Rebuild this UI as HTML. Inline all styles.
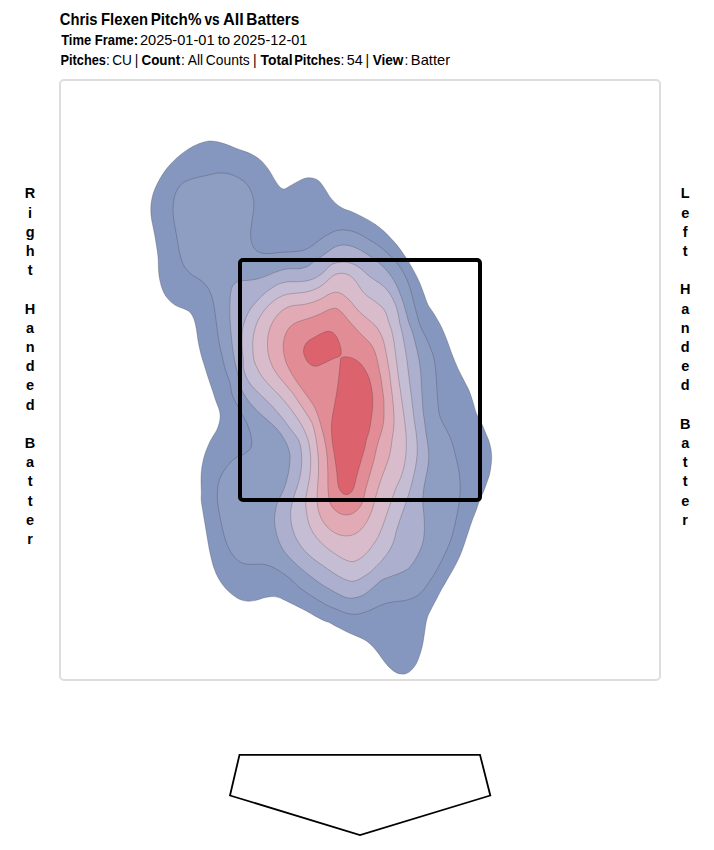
<!DOCTYPE html>
<html><head><meta charset="utf-8">
<style>
html,body{margin:0;padding:0;background:#fff;}
body{width:714px;height:850px;position:relative;overflow:hidden;font-family:"Liberation Sans",sans-serif;color:#000;}
#frame{position:absolute;left:59px;top:79px;width:598px;height:598px;border:2px solid #ddd;border-radius:5px;}
svg{position:absolute;left:0;top:0;}
</style></head>
<body>
<div id="frame"></div>
<svg width="714" height="850" viewBox="0 0 714 850">
<g id="txt" font-family="'Liberation Sans', sans-serif" fill="#000">
<text transform="translate(59.79,24.7) scale(0.942,1)" font-size="15.7" font-weight="bold">Chris</text>
<text transform="translate(101.06,24.7) scale(0.945,1)" font-size="15.7" font-weight="bold">Flexen</text>
<text transform="translate(150.63,24.7) scale(0.971,1)" font-size="15.7" font-weight="bold">Pitch%</text>
<text transform="translate(204.50,24.7) scale(0.872,1)" font-size="15.7" font-weight="bold">vs</text>
<text transform="translate(222.88,24.7) scale(1.038,1)" font-size="15.7" font-weight="bold">All</text>
<text transform="translate(246.32,24.7) scale(0.981,1)" font-size="15.7" font-weight="bold">Batters</text>
<text transform="translate(61.16,44.7) scale(0.942,1)" font-size="13.8" font-weight="bold">Time Frame:</text>
<text transform="translate(139.91,44.7) scale(1.058,1)" font-size="13.8">2025-01-01</text>
<text transform="translate(217.63,44.7) scale(1.098,1)" font-size="13.8">to</text>
<text transform="translate(233.11,44.7) scale(1.053,1)" font-size="13.8">2025-12-01</text>
<text transform="translate(60.47,64.7) scale(0.928,1)" font-size="13.8" font-weight="bold">Pitches</text>
<text transform="translate(105.97,64.7) scale(1.000,1)" font-size="13.8">:</text>
<text transform="translate(112.16,64.7) scale(0.989,1)" font-size="13.8">CU</text>
<text transform="translate(134.72,64.7) scale(1.000,1)" font-size="13.8">|</text>
<text transform="translate(141.51,64.7) scale(0.971,1)" font-size="13.8" font-weight="bold">Count</text>
<text transform="translate(180.93,64.7) scale(1.000,1)" font-size="13.8">:</text>
<text transform="translate(187.80,64.7) scale(1.000,1)" font-size="13.8">All</text>
<text transform="translate(205.85,64.7) scale(1.005,1)" font-size="13.8">Counts</text>
<text transform="translate(253.03,64.7) scale(1.000,1)" font-size="13.8">|</text>
<text transform="translate(260.55,64.7) scale(1.005,1)" font-size="13.8" font-weight="bold">Total</text>
<text transform="translate(294.15,64.7) scale(0.947,1)" font-size="13.8" font-weight="bold">Pitches</text>
<text transform="translate(340.43,64.7) scale(1.000,1)" font-size="13.8">:</text>
<text transform="translate(346.68,64.7) scale(1.041,1)" font-size="13.8">54</text>
<text transform="translate(365.62,64.7) scale(1.000,1)" font-size="13.8">|</text>
<text transform="translate(372.70,64.7) scale(0.986,1)" font-size="13.8" font-weight="bold">View</text>
<text transform="translate(404.43,64.7) scale(1.000,1)" font-size="13.8">:</text>
<text transform="translate(410.84,64.7) scale(1.065,1)" font-size="13.8">Batter</text>
<text x="30.1" y="198.4" text-anchor="middle" font-size="14.5" font-weight="bold">R</text>
<text x="30.1" y="217.6" text-anchor="middle" font-size="14.5" font-weight="bold">i</text>
<text x="30.1" y="236.8" text-anchor="middle" font-size="14.5" font-weight="bold">g</text>
<text x="30.1" y="256.0" text-anchor="middle" font-size="14.5" font-weight="bold">h</text>
<text x="30.1" y="275.2" text-anchor="middle" font-size="14.5" font-weight="bold">t</text>
<text x="30.1" y="313.6" text-anchor="middle" font-size="14.5" font-weight="bold">H</text>
<text x="30.1" y="332.8" text-anchor="middle" font-size="14.5" font-weight="bold">a</text>
<text x="30.1" y="352.0" text-anchor="middle" font-size="14.5" font-weight="bold">n</text>
<text x="30.1" y="371.2" text-anchor="middle" font-size="14.5" font-weight="bold">d</text>
<text x="30.1" y="390.4" text-anchor="middle" font-size="14.5" font-weight="bold">e</text>
<text x="30.1" y="409.6" text-anchor="middle" font-size="14.5" font-weight="bold">d</text>
<text x="30.1" y="448.0" text-anchor="middle" font-size="14.5" font-weight="bold">B</text>
<text x="30.1" y="467.2" text-anchor="middle" font-size="14.5" font-weight="bold">a</text>
<text x="30.1" y="486.4" text-anchor="middle" font-size="14.5" font-weight="bold">t</text>
<text x="30.1" y="505.6" text-anchor="middle" font-size="14.5" font-weight="bold">t</text>
<text x="30.1" y="524.8" text-anchor="middle" font-size="14.5" font-weight="bold">e</text>
<text x="30.1" y="544.0" text-anchor="middle" font-size="14.5" font-weight="bold">r</text>
<text x="685.2" y="198.4" text-anchor="middle" font-size="14.5" font-weight="bold">L</text>
<text x="685.2" y="217.6" text-anchor="middle" font-size="14.5" font-weight="bold">e</text>
<text x="685.2" y="236.8" text-anchor="middle" font-size="14.5" font-weight="bold">f</text>
<text x="685.2" y="256.0" text-anchor="middle" font-size="14.5" font-weight="bold">t</text>
<text x="685.2" y="294.4" text-anchor="middle" font-size="14.5" font-weight="bold">H</text>
<text x="685.2" y="313.6" text-anchor="middle" font-size="14.5" font-weight="bold">a</text>
<text x="685.2" y="332.8" text-anchor="middle" font-size="14.5" font-weight="bold">n</text>
<text x="685.2" y="352.0" text-anchor="middle" font-size="14.5" font-weight="bold">d</text>
<text x="685.2" y="371.2" text-anchor="middle" font-size="14.5" font-weight="bold">e</text>
<text x="685.2" y="390.4" text-anchor="middle" font-size="14.5" font-weight="bold">d</text>
<text x="685.2" y="428.8" text-anchor="middle" font-size="14.5" font-weight="bold">B</text>
<text x="685.2" y="448.0" text-anchor="middle" font-size="14.5" font-weight="bold">a</text>
<text x="685.2" y="467.2" text-anchor="middle" font-size="14.5" font-weight="bold">t</text>
<text x="685.2" y="486.4" text-anchor="middle" font-size="14.5" font-weight="bold">t</text>
<text x="685.2" y="505.6" text-anchor="middle" font-size="14.5" font-weight="bold">e</text>
<text x="685.2" y="524.8" text-anchor="middle" font-size="14.5" font-weight="bold">r</text>
</g>
<g id="kde">
<path d="M213.5,141.2C216.7,141.5 220.2,142.4 224.0,143.6C227.8,144.8 232.4,146.9 236.6,148.5C240.8,150.1 245.3,151.3 249.2,153.1C253.0,154.9 256.5,156.8 259.7,159.4C262.9,162.0 265.7,165.6 268.2,168.9C270.7,172.2 272.8,176.6 274.5,179.4C276.2,182.2 277.4,184.1 278.6,185.6C279.8,187.1 280.6,187.6 281.5,188.2C282.4,188.8 283.0,189.0 283.8,189.0C284.6,189.0 285.3,188.6 286.5,188.0C287.7,187.4 288.4,186.7 291.2,185.2C294.0,183.7 299.7,180.1 303.1,178.9C306.5,177.7 308.9,177.6 311.5,177.9C314.1,178.2 316.6,179.1 318.9,181.0C321.2,182.9 323.1,186.4 325.2,189.4C327.3,192.4 328.9,195.9 331.5,198.9C334.1,201.9 337.2,205.0 340.9,207.3C344.6,209.6 348.9,210.4 353.5,212.5C358.1,214.6 364.4,217.8 368.2,219.9C372.0,222.0 373.7,223.2 376.2,225.0C378.7,226.8 380.9,228.5 383.2,230.6C385.5,232.7 387.9,235.1 390.2,237.6C392.5,240.1 395.1,242.7 397.2,245.3C399.3,247.9 400.9,250.3 402.8,253.0C404.7,255.7 406.5,258.4 408.4,261.4C410.3,264.4 412.1,267.7 414.0,271.2C415.9,274.7 418.0,278.7 419.6,282.4C421.2,286.1 422.4,289.9 423.8,293.6C425.2,297.3 426.4,301.6 428.0,304.8C429.6,308.1 431.4,309.6 433.5,313.1C435.6,316.6 438.5,321.1 440.8,325.7C443.1,330.2 445.2,335.5 447.1,340.4C449.0,345.3 450.6,350.6 452.4,355.1C454.1,359.7 455.7,363.5 457.6,367.7C459.5,371.9 462.0,376.4 463.9,380.3C465.8,384.2 467.6,387.0 469.2,390.8C470.8,394.6 472.2,399.5 473.4,403.4C474.6,407.2 475.2,410.5 476.6,413.9C478.0,417.3 480.4,420.9 481.9,424.0C483.4,427.1 484.2,429.6 485.4,432.4C486.6,435.2 488.0,438.0 488.9,440.8C489.8,443.6 490.5,446.4 491.0,449.2C491.5,452.0 491.7,454.8 491.7,457.6C491.7,460.4 491.4,463.2 491.0,466.0C490.6,468.8 490.3,471.6 489.6,474.4C488.9,477.2 487.7,480.1 486.8,482.8C485.9,485.5 484.9,488.2 484.0,490.5C483.1,492.8 482.1,494.6 481.2,496.8C480.3,499.0 479.2,501.6 478.4,503.8C477.6,506.0 477.4,507.1 476.3,510.0C475.2,512.9 473.4,517.2 472.0,521.0C470.6,524.8 469.3,529.0 468.0,533.0C466.7,537.0 465.3,541.2 464.0,545.0C462.7,548.8 461.5,552.4 460.0,555.8C458.5,559.2 456.9,562.3 455.2,565.6C453.5,568.9 451.5,572.1 449.6,575.4C447.7,578.7 445.4,582.8 444.0,585.2C442.6,587.6 442.6,587.4 441.2,590.0C439.8,592.6 437.4,597.4 435.5,601.0C433.6,604.6 431.4,608.7 430.0,611.5C428.6,614.3 428.1,615.3 427.3,617.8C426.6,620.2 426.0,623.2 425.5,626.2C425.0,629.2 424.6,632.7 424.1,636.0C423.6,639.3 423.1,642.5 422.4,645.8C421.6,649.1 420.7,652.6 419.6,655.6C418.6,658.6 417.5,661.5 416.1,664.0C414.7,666.5 412.8,668.7 411.2,670.3C409.6,671.9 407.9,673.0 406.3,673.6C404.7,674.2 403.1,674.3 401.4,674.1C399.6,673.9 397.7,673.4 395.8,672.4C393.9,671.4 392.1,670.0 390.2,668.2C388.3,666.5 386.5,664.2 384.6,661.9C382.7,659.6 380.9,656.7 379.0,654.2C377.1,651.8 375.5,649.4 373.4,647.2C371.3,645.0 369.0,642.6 366.4,640.9C363.8,639.1 361.0,638.1 358.0,636.7C355.0,635.3 351.5,634.0 348.2,632.5C344.9,631.0 341.4,629.2 338.4,627.6C335.4,626.0 332.2,624.0 330.0,622.9C327.8,621.8 327.8,622.4 325.4,621.3C323.0,620.2 318.9,618.1 315.6,616.4C312.3,614.6 309.4,612.7 305.8,610.8C302.2,608.9 297.6,606.6 294.0,604.8C290.4,603.0 287.0,601.2 284.2,599.9C281.4,598.6 279.5,597.6 277.2,597.1C274.9,596.6 272.5,596.5 270.2,596.7C267.9,596.9 265.5,597.5 263.2,598.1C260.9,598.7 258.5,599.8 256.2,600.3C253.9,600.8 251.3,601.2 249.2,601.3C247.1,601.3 245.5,601.1 243.6,600.6C241.7,600.1 240.1,599.7 238.0,598.5C235.9,597.3 233.3,595.6 231.0,593.6C228.7,591.6 226.1,589.2 224.0,586.6C221.9,584.0 220.0,581.1 218.4,578.2C216.8,575.4 215.6,572.5 214.5,569.5C213.4,566.5 212.6,563.9 211.7,560.2C210.8,556.6 209.7,551.8 208.9,547.6C208.1,543.4 207.5,539.2 206.8,535.0C206.1,530.8 205.4,526.6 204.7,522.4C204.0,518.2 203.2,513.5 202.6,509.8C202.0,506.1 201.4,502.8 201.2,500.0C201.0,497.2 201.3,496.5 201.3,492.9C201.3,489.3 200.9,482.8 201.0,478.2C201.1,473.6 201.4,469.8 202.1,465.6C202.8,461.4 203.8,457.2 205.2,453.0C206.6,448.8 208.6,444.2 210.5,440.4C212.4,436.5 215.2,433.4 216.8,429.9C218.4,426.4 219.5,422.5 219.9,419.4C220.3,416.2 220.2,414.1 219.5,411.0C218.8,407.9 216.9,404.0 215.7,400.5C214.5,397.0 213.6,393.8 212.3,390.0C211.0,386.2 209.5,381.9 208.1,377.6C206.7,373.3 205.2,368.3 203.9,364.1C202.6,359.9 201.5,356.3 200.5,352.4C199.5,348.5 198.7,344.5 198.0,340.6C197.3,336.7 197.0,332.5 196.3,328.8C195.6,325.1 194.9,321.5 193.8,318.7C192.7,315.9 191.3,313.7 189.6,312.0C187.9,310.3 186.1,309.8 183.7,308.7C181.3,307.6 178.0,307.0 175.3,305.3C172.6,303.6 169.8,301.1 167.7,298.6C165.6,296.1 164.0,293.3 162.7,290.2C161.4,287.1 160.5,283.5 159.8,280.1C159.1,276.7 158.8,274.0 158.5,270.0C158.2,266.0 158.5,261.8 157.9,256.0C157.3,250.2 155.9,242.0 154.7,235.0C153.5,228.0 151.3,220.3 150.9,214.0C150.5,207.7 151.0,202.4 152.2,197.2C153.4,191.9 155.4,187.4 157.9,182.5C160.4,177.6 163.6,172.4 167.3,167.8C171.0,163.2 175.7,158.8 179.9,155.2C184.2,151.6 188.6,148.7 192.8,146.4C197.0,144.2 201.7,142.6 205.1,141.7C208.5,140.8 210.3,140.9 213.5,141.2Z" fill="#8596bf" stroke="#333" stroke-opacity="0.65" stroke-width="0.4"/>
<path d="M217.7,173.1C221.5,172.8 224.7,172.9 228.2,173.7C231.7,174.5 235.5,176.1 238.7,177.9C241.8,179.7 244.8,181.7 247.1,184.6C249.4,187.5 251.3,191.6 252.4,195.1C253.5,198.6 253.9,201.8 253.9,205.6C253.9,209.4 252.9,214.0 252.4,218.2C251.9,222.4 250.9,227.0 250.7,230.8C250.5,234.7 250.7,238.3 251.3,241.3C251.9,244.3 252.9,246.8 254.5,248.7C256.1,250.6 258.2,252.1 260.8,252.9C263.4,253.7 267.1,253.6 270.3,253.5C273.5,253.4 276.3,252.7 280.0,252.4C283.7,252.1 288.8,252.2 292.6,251.8C296.5,251.5 300.0,251.2 303.1,250.3C306.2,249.4 308.4,248.1 311.5,246.1C314.6,244.1 318.9,240.3 322.0,238.2C325.1,236.1 327.7,234.6 330.0,233.4C332.3,232.2 333.5,231.5 335.6,230.9C337.7,230.3 340.0,229.9 342.6,229.9C345.2,229.9 348.2,230.2 351.0,230.9C353.8,231.6 356.4,232.6 359.4,234.1C362.4,235.6 365.9,237.7 369.2,239.7C372.5,241.7 376.0,243.8 379.0,246.0C382.0,248.2 384.8,250.7 387.4,253.0C390.0,255.3 392.3,257.7 394.4,260.0C396.5,262.3 398.2,264.4 400.0,267.0C401.8,269.6 403.4,272.4 404.9,275.4C406.4,278.4 407.9,281.9 409.1,285.2C410.3,288.5 411.0,291.5 411.9,295.0C412.8,298.5 413.8,302.7 414.7,306.2C415.6,309.7 416.5,313.0 417.3,316.0C418.1,319.0 418.7,321.5 419.6,324.0C420.5,326.5 421.5,328.6 422.6,331.0C423.7,333.4 425.0,335.4 426.3,338.2C427.6,341.0 429.2,344.7 430.5,348.0C431.8,351.3 433.0,354.5 433.8,357.8C434.6,361.1 435.0,364.6 435.4,367.6C435.8,370.6 435.9,372.7 436.1,376.0C436.3,379.3 436.6,383.5 436.8,387.2C437.0,390.9 437.2,394.7 437.5,398.4C437.8,402.1 438.0,406.3 438.5,409.6C439.0,412.9 439.6,415.5 440.6,418.4C441.7,421.3 443.3,423.8 444.8,426.8C446.3,429.8 448.3,433.3 449.7,436.6C451.1,439.9 452.1,442.9 453.2,446.4C454.2,449.9 455.1,453.9 456.0,457.6C456.9,461.3 457.9,465.1 458.5,468.8C459.1,472.5 459.6,476.5 459.9,480.0C460.2,483.5 460.3,486.5 460.2,489.8C460.1,493.1 459.9,496.3 459.5,500.0C459.1,503.7 458.4,507.1 457.5,512.0C456.6,516.9 455.1,524.0 453.8,529.2C452.5,534.4 451.2,538.8 449.6,543.2C448.0,547.6 446.0,551.6 444.0,555.8C442.0,560.0 439.9,564.4 437.7,568.4C435.5,572.4 432.8,576.4 430.7,579.6C428.6,582.8 427.0,585.3 425.2,587.7C423.4,590.1 421.7,592.2 419.6,594.0C417.5,595.8 415.2,597.1 412.6,598.2C410.0,599.3 407.2,600.1 404.2,600.7C401.2,601.3 397.7,601.2 394.4,601.7C391.1,602.2 387.9,602.8 384.6,603.8C381.3,604.8 378.1,606.6 374.8,608.0C371.5,609.4 368.3,611.2 365.0,612.2C361.7,613.2 358.5,614.2 355.2,614.3C351.9,614.4 348.4,613.7 345.4,612.9C342.4,612.1 339.9,610.6 337.0,609.4C334.1,608.2 331.3,607.4 328.2,605.9C325.1,604.4 321.7,602.3 318.4,600.3C315.1,598.3 311.9,596.2 308.6,594.0C305.3,591.8 301.9,589.6 298.8,587.0C295.7,584.4 293.0,581.0 290.0,578.5C287.0,576.0 283.7,573.9 281.0,572.1C278.3,570.3 276.3,569.1 274.0,567.9C271.7,566.7 269.3,565.7 267.0,565.1C264.7,564.5 262.6,564.2 260.0,564.1C257.4,564.0 254.3,564.5 251.6,564.4C248.9,564.3 246.2,564.4 243.9,563.7C241.6,563.0 239.6,561.8 237.6,560.2C235.6,558.6 233.8,556.5 232.0,553.9C230.2,551.3 228.5,548.2 227.1,544.8C225.7,541.4 224.6,537.6 223.6,533.6C222.6,529.6 221.6,525.0 220.8,521.0C220.0,517.0 219.3,513.4 218.7,509.8C218.1,506.2 217.5,503.4 217.4,499.2C217.3,495.0 217.4,488.7 218.2,484.5C219.0,480.3 220.1,477.5 222.0,474.0C223.9,470.5 227.0,466.3 229.4,463.5C231.8,460.7 234.6,458.6 236.7,457.2C238.8,455.8 240.6,455.9 242.0,455.2C243.4,454.5 244.0,454.3 245.4,453.1C246.8,451.9 249.6,450.2 250.7,448.2C251.8,446.2 251.8,443.8 251.7,441.2C251.6,438.6 251.1,435.8 250.3,432.8C249.5,429.8 248.1,426.0 246.8,423.0C245.5,420.0 243.8,417.4 242.3,414.6C240.8,411.8 239.4,409.4 237.7,406.0C236.0,402.6 233.4,398.4 232.1,394.5C230.8,390.6 231.0,386.6 229.9,382.6C228.8,378.7 226.9,375.0 225.7,370.8C224.4,366.6 223.5,361.9 222.4,357.4C221.3,352.9 220.2,348.4 219.3,343.9C218.5,339.4 217.9,335.0 217.3,330.5C216.7,326.0 216.2,321.3 215.6,317.1C215.0,312.9 214.6,309.0 213.9,305.3C213.2,301.6 212.5,298.3 211.4,295.2C210.3,292.1 209.0,289.3 207.2,286.8C205.4,284.3 203.0,282.1 200.5,280.1C198.0,278.1 194.3,276.7 192.1,275.0C189.9,273.3 188.6,271.8 187.1,270.0C185.6,268.2 184.2,266.7 183.0,264.0C181.8,261.3 180.9,258.5 179.9,254.0C178.9,249.5 177.9,243.1 176.8,237.1C175.8,231.1 174.2,223.4 173.6,218.2C173.0,212.9 172.8,209.8 173.2,205.6C173.5,201.4 174.2,196.7 175.7,193.0C177.2,189.3 179.2,186.0 182.0,183.6C184.8,181.2 188.7,180.0 192.5,178.7C196.3,177.4 200.9,176.7 205.1,175.8C209.3,174.9 213.8,173.4 217.7,173.1Z" fill="#8e9dc2" stroke="#333" stroke-opacity="0.65" stroke-width="0.4"/>
<path d="M342.6,245.0C344.9,244.8 347.0,245.1 349.6,245.7C352.2,246.3 355.2,247.5 358.0,248.8C360.8,250.1 364.1,252.2 366.4,253.7C368.7,255.1 369.9,256.0 372.0,257.5C374.1,259.0 376.7,260.8 379.0,262.8C381.3,264.9 383.9,267.5 386.0,269.8C388.1,272.1 389.9,274.2 391.6,276.8C393.4,279.4 395.1,282.4 396.5,285.2C397.9,288.0 398.8,290.6 400.0,293.6C401.2,296.6 402.4,300.1 403.5,303.4C404.6,306.7 405.4,310.1 406.3,313.2C407.2,316.3 407.7,319.2 408.6,322.0C409.5,324.8 410.6,326.9 411.6,329.8C412.6,332.7 413.5,336.3 414.4,339.6C415.3,342.9 416.1,346.1 416.9,349.4C417.6,352.7 418.3,355.9 418.9,359.2C419.5,362.5 419.9,365.7 420.3,369.0C420.7,372.3 420.9,375.3 421.1,378.8C421.3,382.3 421.5,386.3 421.7,390.0C421.9,393.7 422.3,397.7 422.5,401.2C422.7,404.7 422.8,407.7 423.1,411.0C423.4,414.3 424.0,417.6 424.5,421.2C425.0,424.8 425.4,428.7 425.9,432.4C426.4,436.1 427.2,439.9 427.7,443.6C428.2,447.3 428.6,451.1 428.7,454.8C428.8,458.5 428.5,462.3 428.0,466.0C427.5,469.7 426.6,473.5 425.9,477.2C425.2,480.9 424.3,484.4 423.8,488.4C423.3,492.4 422.7,497.2 422.7,501.2C422.7,505.2 423.4,508.7 423.7,512.4C424.0,516.1 424.3,519.9 424.4,523.6C424.5,527.3 424.5,531.3 424.1,534.8C423.8,538.3 423.3,541.3 422.3,544.6C421.3,547.9 419.6,551.4 418.1,554.4C416.6,557.4 414.9,560.3 413.2,562.8C411.4,565.2 409.9,567.4 407.6,569.1C405.3,570.9 402.5,571.9 399.2,573.3C395.9,574.7 390.9,576.4 388.0,577.5C385.1,578.6 383.5,579.0 381.8,580.0C380.1,581.0 379.2,582.1 377.6,583.5C376.0,584.9 374.1,586.6 372.0,588.4C369.9,590.1 367.3,592.5 365.0,594.0C362.7,595.5 360.3,596.4 358.0,597.1C355.7,597.8 353.2,598.2 351.0,598.2C348.8,598.2 346.9,597.8 345.0,597.2C343.1,596.6 341.6,595.7 339.5,594.6C337.4,593.5 335.8,592.7 332.7,590.9C329.6,589.1 324.9,586.6 321.0,584.0C317.1,581.4 313.1,578.3 309.2,575.2C305.3,572.1 301.1,568.7 297.5,565.4C293.9,562.1 290.2,558.6 287.6,555.6C285.0,552.6 283.5,550.6 281.8,547.6C280.1,544.6 278.8,541.1 277.7,537.8C276.6,534.5 275.8,531.3 275.3,528.0C274.8,524.7 274.4,521.2 274.5,518.2C274.6,515.2 275.1,512.5 275.6,509.8C276.1,507.1 276.3,505.6 277.7,502.1C279.1,498.6 282.2,493.4 284.0,488.7C285.8,484.0 287.2,478.8 288.2,474.0C289.2,469.2 289.8,463.6 290.0,460.0C290.2,456.4 290.2,455.3 289.5,452.4C288.8,449.5 287.8,446.1 286.0,442.6C284.2,439.1 281.8,434.9 279.0,431.4C276.2,427.9 272.7,424.9 269.2,421.6C265.7,418.3 261.5,415.3 258.0,411.8C254.5,408.3 250.8,404.0 248.2,400.6C245.6,397.2 244.0,394.3 242.6,391.5C241.2,388.7 240.2,386.6 239.5,384.0C238.8,381.4 238.8,378.4 238.3,375.9C237.8,373.4 237.3,372.3 236.6,369.2C235.9,366.1 234.8,361.6 234.1,357.4C233.3,353.2 232.6,348.4 232.1,343.9C231.6,339.4 231.2,335.0 230.8,330.5C230.4,326.0 230.1,321.6 229.9,317.1C229.8,312.6 229.8,307.8 229.9,303.6C230.1,299.4 230.2,294.9 230.8,291.8C231.4,288.7 232.1,286.8 233.3,285.1C234.5,283.4 236.4,282.2 237.8,281.5C239.2,280.8 240.1,280.9 242.0,280.7C243.9,280.5 246.4,280.6 249.0,280.3C251.6,280.0 254.6,279.6 257.4,278.9C260.2,278.2 263.0,277.2 265.8,276.1C268.6,275.1 271.4,273.7 274.2,272.6C277.0,271.6 279.8,270.5 282.6,269.8C285.4,269.1 288.2,268.9 291.0,268.7C293.8,268.5 296.6,269.1 299.4,268.7C302.2,268.3 305.5,267.4 307.8,266.3C310.1,265.2 311.0,263.8 313.4,262.1C315.8,260.4 319.2,258.0 322.0,256.0C324.8,254.0 327.7,251.8 330.0,250.2C332.3,248.6 333.5,247.6 335.6,246.7C337.7,245.8 340.3,245.2 342.6,245.0Z" fill="#acb0ce" stroke="#333" stroke-opacity="0.65" stroke-width="0.4"/>
<path d="M341.2,262.1C343.5,261.9 345.9,262.0 348.2,262.5C350.5,263.0 352.9,263.7 355.2,264.9C357.5,266.1 359.9,267.9 362.2,269.8C364.5,271.7 366.9,274.2 369.2,276.1C371.5,278.0 373.9,279.4 376.2,281.0C378.5,282.6 381.1,284.0 383.2,285.9C385.3,287.8 387.2,290.0 388.8,292.2C390.4,294.4 391.7,296.6 393.0,299.2C394.3,301.8 395.6,304.8 396.5,307.6C397.4,310.4 398.1,313.6 398.6,316.0C399.1,318.4 399.0,319.7 399.5,322.0C400.0,324.3 400.8,326.9 401.5,329.8C402.2,332.7 402.9,336.3 403.5,339.6C404.1,342.9 404.8,346.1 405.3,349.4C405.9,352.7 406.4,355.9 406.8,359.2C407.2,362.5 407.6,365.7 408.0,369.0C408.4,372.3 408.8,375.3 409.2,378.8C409.6,382.3 410.1,386.3 410.6,390.0C411.1,393.7 411.6,397.7 412.0,401.2C412.4,404.7 412.8,407.7 413.2,411.0C413.6,414.3 413.9,417.6 414.4,421.2C414.9,424.8 415.7,428.7 416.1,432.4C416.6,436.1 416.9,439.9 417.1,443.6C417.3,447.3 417.3,451.1 417.1,454.8C416.9,458.5 416.3,462.3 415.7,466.0C415.1,469.7 414.2,473.5 413.3,477.2C412.4,480.9 411.8,483.9 410.5,488.4C409.2,492.9 407.1,499.1 405.5,504.0C403.9,508.9 402.1,513.6 400.6,518.0C399.1,522.4 397.6,526.6 396.4,530.6C395.2,534.6 394.9,538.3 393.6,541.8C392.3,545.3 390.8,548.3 388.7,551.6C386.6,554.9 383.9,558.1 381.0,561.4C378.1,564.7 373.8,568.8 371.2,571.2C368.6,573.6 367.4,574.2 365.2,575.6C363.0,577.0 360.5,578.9 358.2,579.8C355.9,580.7 353.8,581.4 351.2,581.2C348.6,581.0 345.8,579.8 342.8,578.4C339.8,577.0 336.3,574.9 333.0,572.8C329.7,570.7 326.5,568.1 323.2,565.8C319.9,563.5 316.5,561.4 313.4,558.8C310.2,556.2 307.0,553.4 304.3,550.4C301.6,547.4 299.2,543.9 297.3,540.6C295.4,537.3 294.2,534.1 293.1,530.8C292.1,527.5 291.4,524.3 291.0,521.0C290.6,517.7 290.5,514.4 290.7,511.2C290.9,508.1 291.7,505.1 292.4,502.1C293.1,499.1 294.1,496.1 295.0,493.2C295.9,490.3 296.9,488.1 297.8,484.8C298.7,481.5 300.0,477.3 300.6,473.6C301.2,469.9 301.6,466.1 301.7,462.4C301.8,458.7 301.8,454.9 301.3,451.2C300.8,447.5 300.4,443.8 298.5,440.0C296.6,436.2 293.0,432.4 290.2,428.6C287.4,424.8 284.8,421.1 281.8,417.4C278.8,413.7 275.3,409.7 272.0,406.2C268.7,402.7 265.5,399.7 262.2,396.4C258.9,393.1 255.1,389.9 252.4,386.6C249.7,383.3 247.6,380.1 246.1,376.8C244.6,373.5 243.8,369.8 243.3,367.0C242.9,364.2 243.6,362.9 243.4,360.0C243.2,357.1 242.5,353.2 242.3,349.6C242.1,346.0 241.9,341.9 242.0,338.4C242.1,334.9 242.1,331.9 242.7,328.6C243.3,325.3 244.2,322.1 245.5,318.8C246.8,315.5 248.4,312.0 250.4,309.0C252.4,306.0 255.1,303.2 257.4,300.6C259.7,298.0 261.8,295.8 264.4,293.6C267.0,291.4 270.0,289.1 272.8,287.3C275.6,285.6 278.4,284.0 281.2,283.1C284.0,282.2 286.6,281.9 289.6,281.7C292.6,281.5 296.1,281.9 299.4,281.7C302.7,281.5 306.2,281.1 309.2,280.3C312.2,279.5 315.0,278.3 317.6,276.8C320.2,275.3 322.5,273.1 324.6,271.2C326.7,269.3 328.6,266.9 330.2,265.6C331.8,264.3 332.4,264.1 334.2,263.5C336.0,262.9 338.9,262.3 341.2,262.1Z" fill="#c5bdd3" stroke="#333" stroke-opacity="0.65" stroke-width="0.4"/>
<path d="M342.6,273.3C344.7,273.4 346.3,273.8 348.2,274.7C350.1,275.6 352.2,277.3 353.8,278.9C355.4,280.5 356.6,282.5 358.0,284.5C359.4,286.5 360.6,288.8 362.2,290.8C363.8,292.8 365.7,294.6 367.8,296.4C369.9,298.1 372.5,299.6 374.8,301.3C377.1,303.1 379.9,304.9 381.8,306.9C383.7,308.9 384.9,311.0 386.0,313.2C387.1,315.4 387.3,317.3 388.2,320.2C389.1,323.1 390.6,326.8 391.6,330.5C392.6,334.2 393.4,338.5 394.0,342.4C394.6,346.2 395.0,349.9 395.5,353.6C396.0,357.3 396.5,361.1 397.0,364.8C397.5,368.5 397.8,372.3 398.3,376.0C398.8,379.7 399.4,383.5 399.9,387.2C400.4,390.9 401.0,394.7 401.5,398.4C402.0,402.1 402.6,405.8 403.1,409.6C403.6,413.4 404.2,417.4 404.7,421.2C405.2,425.0 405.6,428.7 405.9,432.4C406.2,436.1 406.3,439.9 406.3,443.6C406.3,447.3 406.2,451.1 405.9,454.8C405.5,458.5 404.9,462.5 404.2,466.0C403.4,469.5 402.4,473.0 401.4,475.8C400.4,478.6 399.4,480.6 398.3,483.0C397.2,485.4 396.1,487.6 395.0,490.5C393.9,493.4 392.8,496.9 391.5,500.5C390.2,504.1 388.9,507.9 387.5,512.0C386.1,516.1 384.5,521.0 383.0,525.0C381.5,529.0 380.0,532.9 378.5,536.0C377.0,539.1 375.7,541.0 374.0,543.5C372.3,546.0 370.1,548.9 368.4,551.0C366.6,553.1 365.2,554.5 363.5,556.0C361.8,557.5 360.0,558.9 358.2,559.8C356.4,560.7 354.6,561.5 352.6,561.6C350.6,561.7 348.9,561.2 346.3,560.2C343.7,559.2 340.4,557.3 337.2,555.3C334.0,553.3 330.4,550.8 327.4,548.3C324.4,545.8 321.4,543.3 319.0,540.6C316.6,537.9 314.4,535.2 312.7,532.2C310.9,529.2 309.6,525.9 308.5,522.4C307.4,518.9 306.9,514.6 306.4,511.2C305.9,507.8 305.7,504.6 305.7,502.1C305.7,499.6 305.8,498.9 306.2,496.0C306.6,493.1 307.6,488.5 308.3,484.8C309.0,481.1 309.7,477.3 310.1,473.6C310.5,469.9 310.7,466.1 310.7,462.4C310.7,458.7 310.6,454.9 310.1,451.2C309.7,447.5 309.2,444.0 308.0,440.0C306.8,436.0 304.8,431.2 302.8,427.2C300.8,423.2 298.4,419.7 295.8,416.0C293.2,412.3 290.2,408.3 287.4,404.8C284.6,401.3 281.8,398.0 279.0,395.0C276.2,392.0 273.4,389.6 270.6,386.6C267.8,383.6 264.4,379.8 262.2,376.8C260.0,373.8 258.7,371.2 257.3,368.4C255.9,365.6 254.6,363.1 253.9,360.0C253.2,356.9 253.1,353.0 252.9,349.6C252.7,346.2 252.6,343.1 252.9,339.8C253.2,336.5 253.7,333.3 254.6,330.0C255.5,326.7 256.6,323.3 258.1,320.2C259.6,317.1 261.6,313.9 263.7,311.1C265.8,308.3 268.2,305.6 270.7,303.4C273.1,301.2 275.7,299.3 278.4,297.8C281.1,296.3 284.0,295.1 286.8,294.3C289.6,293.6 292.2,293.7 295.2,293.3C298.2,292.9 301.7,292.9 305.0,292.2C308.3,291.5 311.8,290.7 314.8,289.4C317.8,288.1 320.6,286.4 323.2,284.5C325.8,282.6 328.1,279.9 330.2,278.2C332.3,276.5 333.5,275.1 335.6,274.3C337.7,273.5 340.5,273.2 342.6,273.3Z" fill="#d9bccb" stroke="#333" stroke-opacity="0.65" stroke-width="0.4"/>
<path d="M335.6,292.2C337.7,292.1 339.3,292.7 341.2,293.6C343.1,294.5 344.9,296.2 346.8,297.8C348.7,299.4 350.5,301.3 352.4,303.4C354.3,305.5 355.9,308.2 358.0,310.4C360.1,312.6 363.1,315.0 365.0,316.7C366.9,318.4 367.8,319.0 369.5,320.5C371.2,322.0 373.4,323.6 375.2,325.6C376.9,327.6 378.6,330.0 380.0,332.6C381.4,335.2 382.6,338.0 383.5,341.0C384.4,344.0 385.0,347.3 385.7,350.8C386.4,354.3 387.1,358.3 387.8,362.0C388.5,365.7 389.1,369.5 389.6,373.2C390.1,376.9 390.4,380.7 390.9,384.4C391.3,388.1 391.9,391.9 392.3,395.6C392.7,399.3 393.1,402.7 393.4,406.8C393.7,410.9 394.1,416.1 394.1,420.0C394.1,423.9 393.9,426.7 393.5,430.0C393.1,433.3 392.4,436.9 392.0,440.0C391.6,443.1 391.4,445.4 390.9,448.4C390.4,451.4 389.7,454.9 388.8,458.2C387.9,461.5 386.6,464.5 385.3,468.0C384.0,471.5 382.4,475.5 381.1,479.2C379.8,482.9 378.7,486.9 377.6,490.4C376.6,493.9 375.7,496.9 374.8,500.2C373.9,503.5 373.2,506.7 372.0,510.0C370.8,513.3 369.4,516.8 367.8,519.8C366.2,522.8 364.3,525.9 362.2,528.2C360.1,530.5 357.8,532.5 355.2,533.8C352.6,535.1 349.6,535.8 346.8,535.9C344.0,536.0 341.2,535.5 338.4,534.5C335.6,533.5 332.4,531.6 330.0,529.6C327.6,527.6 325.4,525.2 323.7,522.6C321.9,520.0 320.6,517.2 319.5,514.2C318.4,511.2 317.8,507.4 317.4,504.4C317.0,501.4 317.1,499.3 317.1,496.0C317.2,492.7 317.5,488.5 317.7,484.8C317.9,481.1 318.4,477.3 318.5,473.6C318.6,469.9 318.6,466.1 318.5,462.4C318.4,458.7 318.1,454.9 317.7,451.2C317.3,447.5 317.0,444.5 316.2,440.0C315.4,435.5 314.1,428.6 312.6,424.4C311.1,420.2 309.1,418.0 307.0,414.6C304.9,411.2 302.3,407.5 300.0,404.0C297.7,400.5 295.3,396.7 293.0,393.6C290.7,390.5 288.3,388.0 286.0,385.2C283.7,382.4 281.1,379.6 279.0,376.8C276.9,374.0 274.9,371.2 273.4,368.4C271.9,365.6 270.7,362.2 269.9,360.0C269.1,357.8 269.0,357.4 268.6,355.2C268.2,353.0 267.6,349.8 267.5,346.8C267.4,343.8 267.5,340.1 267.9,337.0C268.3,333.9 268.9,330.8 270.0,327.9C271.1,325.0 272.6,322.1 274.2,319.5C275.8,316.9 277.7,314.5 279.8,312.5C281.9,310.5 284.5,308.8 286.8,307.6C289.1,306.4 291.0,306.0 293.8,305.5C296.6,305.0 300.3,305.1 303.6,304.5C306.9,303.9 310.4,303.0 313.4,302.0C316.4,301.0 319.2,299.8 321.8,298.5C324.4,297.2 326.5,295.4 328.8,294.3C331.1,293.2 333.5,292.3 335.6,292.2Z" fill="#e2aab4" stroke="#333" stroke-opacity="0.65" stroke-width="0.4"/>
<path d="M335.6,308.3C337.7,308.7 339.6,310.4 341.2,311.8C342.8,313.2 344.1,315.0 345.4,316.5C346.7,318.0 347.7,319.5 349.0,321.0C350.3,322.5 351.6,323.8 353.2,325.6C354.8,327.4 356.9,329.9 358.8,331.9C360.7,333.9 362.5,335.6 364.4,337.5C366.3,339.4 368.4,341.0 370.0,343.1C371.6,345.2 373.0,347.4 374.2,350.1C375.4,352.8 376.2,356.1 377.0,359.2C377.8,362.3 378.4,365.7 379.1,369.0C379.8,372.3 380.4,375.3 381.0,378.8C381.6,382.3 382.1,386.5 382.6,390.0C383.1,393.5 383.6,396.5 383.8,399.8C384.0,403.1 384.0,406.2 384.0,409.6C384.0,413.0 384.1,416.6 383.8,420.0C383.5,423.4 382.8,426.7 382.0,430.0C381.2,433.3 379.8,436.7 378.8,440.0C377.8,443.3 377.0,446.5 376.2,449.8C375.4,453.1 374.9,456.3 374.1,459.6C373.3,462.9 372.2,466.1 371.3,469.4C370.4,472.7 369.4,475.9 368.5,479.2C367.6,482.5 366.5,485.7 365.7,489.0C364.9,492.3 364.4,496.0 363.6,498.8C362.8,501.6 362.0,503.8 360.8,505.8C359.6,507.8 358.2,509.3 356.6,510.7C355.0,512.1 352.9,513.5 351.0,514.2C349.1,514.9 347.3,515.0 345.4,514.9C343.5,514.8 341.6,514.3 339.8,513.5C338.1,512.7 336.4,511.5 334.9,510.0C333.4,508.5 331.8,506.7 330.7,504.4C329.6,502.1 329.1,499.3 328.6,496.0C328.1,492.7 328.0,488.5 327.9,484.8C327.8,481.1 328.0,477.3 327.9,473.6C327.8,469.9 327.7,466.1 327.5,462.4C327.3,458.7 326.9,454.8 326.5,451.2C326.1,447.6 325.4,444.0 324.8,441.0C324.2,438.0 323.6,435.5 323.0,433.0C322.4,430.5 321.8,428.6 321.0,425.8C320.2,423.0 319.4,419.3 318.2,416.0C317.0,412.7 315.6,409.2 314.0,406.2C312.4,403.2 310.5,400.8 308.4,397.8C306.3,394.8 303.7,391.3 301.4,388.0C299.1,384.7 296.5,381.5 294.4,378.2C292.3,374.9 290.3,371.4 288.8,368.4C287.3,365.4 286.2,363.1 285.3,360.0C284.4,356.9 283.6,352.7 283.3,349.6C283.0,346.5 283.2,344.0 283.7,341.2C284.2,338.4 285.0,335.2 286.1,332.8C287.2,330.4 288.6,328.2 290.3,326.5C292.1,324.8 294.2,323.5 296.6,322.3C299.1,321.1 302.2,320.4 305.0,319.5C307.8,318.6 310.6,317.8 313.4,316.7C316.2,315.6 319.2,314.4 321.8,313.2C324.4,312.0 326.5,310.5 328.8,309.7C331.1,308.9 333.5,307.9 335.6,308.3Z" fill="#e28d95" stroke="#333" stroke-opacity="0.65" stroke-width="0.4"/>
<path d="M303.5,350.8C303.6,349.2 304.1,346.8 304.9,345.2C305.7,343.6 306.9,342.3 308.4,341.0C309.9,339.7 311.9,338.7 314.0,337.5C316.1,336.3 318.9,334.7 321.0,333.7C323.1,332.7 324.9,331.8 326.6,331.5C328.4,331.2 330.0,331.2 331.5,331.9C333.0,332.5 334.5,333.8 335.7,335.4C336.9,337.0 338.0,339.5 338.9,341.7C339.8,343.9 340.5,346.9 340.9,348.7C341.3,350.5 341.2,351.5 341.2,352.5C341.2,353.5 341.3,354.0 341.0,354.6C340.7,355.2 340.3,355.8 339.6,356.2C338.9,356.6 338.2,356.8 337.0,357.3C335.8,357.8 334.2,358.3 332.2,359.2C330.2,360.1 327.4,361.6 325.2,362.7C323.0,363.8 320.6,364.9 318.9,365.5C317.1,366.1 316.2,366.4 314.7,366.2C313.2,366.0 311.2,365.2 309.8,364.1C308.4,363.1 307.2,361.4 306.3,359.9C305.4,358.4 304.7,356.5 304.2,355.0C303.7,353.5 303.4,352.4 303.5,350.8Z" fill="#dc626d" stroke="#333" stroke-opacity="0.65" stroke-width="0.4"/>
<path d="M340.7,358.3C341.0,357.7 341.3,357.7 342.0,357.4C342.7,357.1 343.4,356.7 344.8,356.7C346.2,356.7 348.5,357.0 350.4,357.5C352.3,358.0 354.1,358.7 356.0,359.9C357.9,361.1 360.0,362.9 361.6,364.8C363.2,366.7 364.5,368.8 365.8,371.1C367.1,373.4 368.4,376.1 369.3,378.8C370.2,381.5 370.9,384.4 371.4,387.2C371.9,390.0 372.3,392.8 372.5,395.6C372.7,398.4 372.9,401.2 372.8,404.0C372.7,406.8 372.4,409.7 372.1,412.4C371.8,415.1 371.6,417.0 371.1,420.0C370.6,423.0 370.1,427.2 369.3,430.5C368.5,433.8 367.2,437.0 366.4,440.0C365.6,443.0 365.4,445.6 364.7,448.4C364.0,451.2 363.1,453.8 362.2,456.8C361.3,459.8 360.3,463.3 359.4,466.6C358.5,469.9 357.4,473.2 356.6,476.4C355.8,479.5 355.2,483.1 354.5,485.5C353.8,487.9 353.0,489.7 352.1,491.1C351.2,492.5 350.0,493.3 348.9,493.9C347.8,494.5 346.6,494.8 345.4,494.6C344.2,494.4 342.9,493.6 341.9,492.5C340.8,491.4 339.8,490.1 339.1,488.3C338.4,486.6 338.1,484.7 337.7,482.0C337.3,479.3 337.1,475.7 336.7,472.2C336.3,468.7 335.8,464.7 335.3,461.0C334.8,457.3 334.0,453.3 333.5,449.8C333.0,446.3 332.4,443.3 332.1,440.0C331.8,436.7 331.5,433.3 331.5,430.0C331.5,426.7 331.5,423.4 331.9,420.0C332.2,416.6 333.0,413.2 333.6,409.6C334.2,406.0 335.1,402.1 335.7,398.4C336.3,394.7 337.0,390.9 337.5,387.2C338.0,383.5 338.5,379.5 338.9,376.0C339.3,372.5 339.6,368.7 339.9,366.2C340.1,363.7 340.3,362.3 340.4,361.0C340.5,359.7 340.4,358.9 340.7,358.3Z" fill="#dc626d" stroke="#333" stroke-opacity="0.65" stroke-width="0.4"/>
</g>
<rect x="240" y="260" width="240" height="240" rx="3" ry="3" fill="none" stroke="#000" stroke-width="4"/>
<polygon points="239.5,754.8 480,754.8 490.3,795.5 360,835 230,795.5" fill="#fff" stroke="#000" stroke-width="1.8"/>
</svg>
</body></html>
